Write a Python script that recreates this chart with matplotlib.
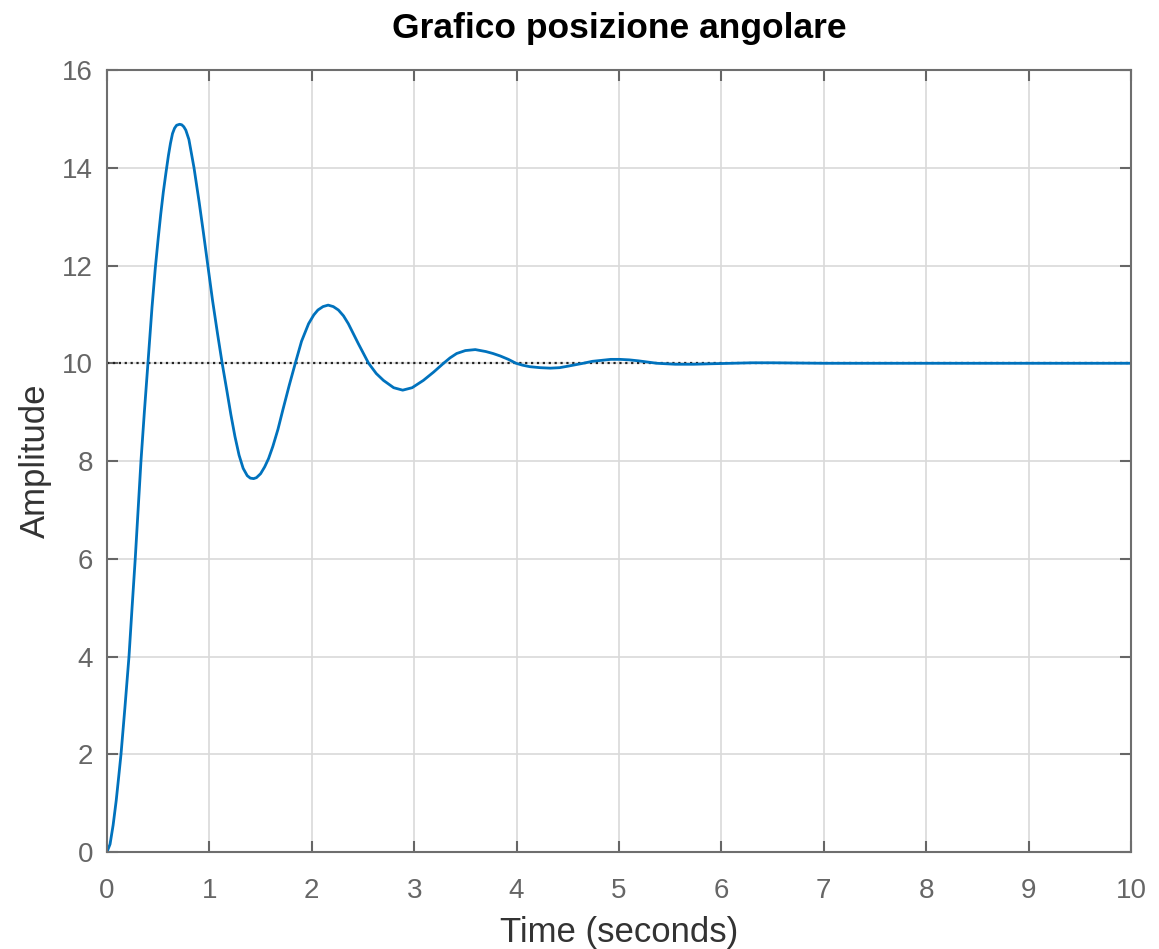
import matplotlib
matplotlib.use('Agg')
import matplotlib.pyplot as plt

# step response: time (s) and amplitude
t = [0.00, 0.03, 0.06, 0.09, 0.115, 0.137, 0.175, 0.215, 0.245, 0.276,
     0.304, 0.332, 0.365, 0.40, 0.44, 0.472, 0.50, 0.525, 0.55, 0.576,
     0.60, 0.62, 0.64, 0.66, 0.68, 0.709, 0.73, 0.75, 0.77, 0.80,
     0.85, 0.90, 0.94, 0.985, 1.03, 1.08, 1.125, 1.17, 1.21, 1.25,
     1.29, 1.33, 1.37, 1.40, 1.432, 1.46, 1.50, 1.54, 1.578, 1.62,
     1.67, 1.718, 1.78, 1.839, 1.90, 1.969, 2.02, 2.06, 2.11, 2.16,
     2.21, 2.26, 2.31, 2.357, 2.455, 2.555, 2.63, 2.70, 2.80, 2.888,
     2.98, 3.09, 3.19, 3.287, 3.35, 3.415, 3.50, 3.597, 3.70, 3.77,
     3.84, 3.92, 3.995, 4.06, 4.13, 4.23, 4.33, 4.42, 4.50, 4.65,
     4.74, 4.83, 4.92, 5.01, 5.10, 5.19, 5.37, 5.55, 5.73, 5.9,
     6.1, 6.3, 6.5, 7.0, 8.0, 10.0]
y = [0.00, 0.16, 0.55, 1.05, 1.55, 2.00, 2.95, 4.00, 5.00, 6.00,
     7.00, 8.00, 9.00, 10.00, 11.15, 11.95, 12.55, 13.05, 13.50, 13.90,
     14.25, 14.50, 14.70, 14.81, 14.87, 14.89, 14.88, 14.84, 14.77, 14.58,
     14.00, 13.30, 12.70, 12.00, 11.30, 10.60, 10.00, 9.45, 8.95, 8.50,
     8.12, 7.85, 7.70, 7.65, 7.64, 7.66, 7.74, 7.88, 8.05, 8.30,
     8.65, 9.05, 9.55, 10.00, 10.45, 10.81, 10.99, 11.09, 11.16, 11.19,
     11.16, 11.09, 10.97, 10.81, 10.40, 10.00, 9.79, 9.65, 9.50, 9.45,
     9.50, 9.65, 9.82, 10.00, 10.11, 10.20, 10.26, 10.28, 10.24, 10.20,
     10.15, 10.08, 10.00, 9.96, 9.93, 9.91, 9.90, 9.91, 9.94, 10.00,
     10.04, 10.06, 10.08, 10.08, 10.07, 10.05, 10.00, 9.98, 9.98, 9.99,
     10.00, 10.01, 10.01, 10.00, 10.00, 10.00]
steady_state = 10
xticks = list(range(0, 11))
yticks = list(range(0, 17, 2))

plt.rcParams['font.family'] = ['Liberation Sans', 'DejaVu Sans']

fig = plt.figure(figsize=(11.59, 9.49), dpi=100)
ax = fig.add_axes([0.0923, 0.1022, 0.8835, 0.824])

ax.plot([0, 10], [steady_state, steady_state], ':', color='#222222', lw=1.6)
ax.plot(t, y, color='#0072BD', lw=2.0)

ax.set_xlim(0, 10)
ax.set_ylim(0, 16)
ax.set_xticks(xticks)
ax.set_yticks(yticks)
ax.grid(True, color='#d9d9d9', lw=1.2)
ax.set_axisbelow(True)
ax.tick_params(direction='in', top=True, right=True, length=8, width=1.5,
               labelsize=20, colors='#666666')
ax.tick_params(axis='x', pad=19)
ax.tick_params(axis='y', pad=10)
for s in ax.spines.values():
    s.set_color('#6e6e6e')
    s.set_linewidth(1.5)

ax.set_title('Grafico posizione angolare', fontsize=25.5, fontweight='bold', pad=23)
ax.set_xlabel('Time (seconds)', fontsize=25, color='#333333', labelpad=8)
ax.set_ylabel('Amplitude', fontsize=25, color='#333333', labelpad=7)

fig.savefig('out.png', dpi=100)
